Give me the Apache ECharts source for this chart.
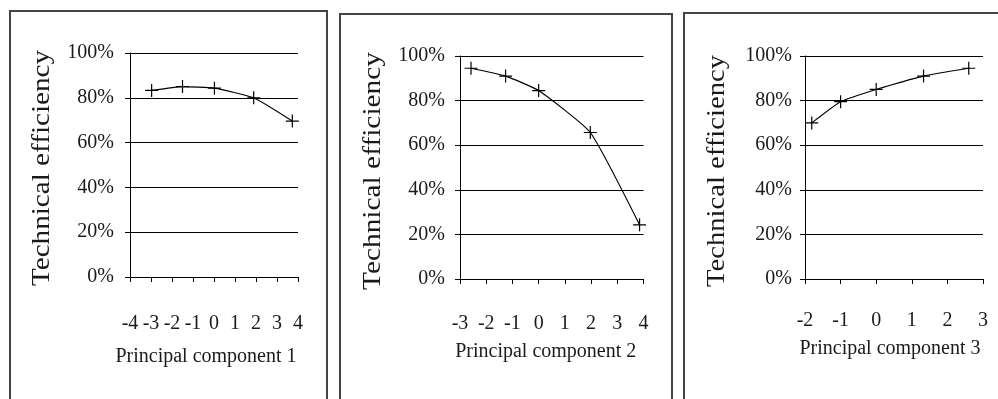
<!DOCTYPE html>
<html>
<head>
<meta charset="utf-8">
<script src="https://cdn.jsdelivr.net/npm/echarts@6/dist/echarts.min.js"></script>
<style>
html,body{margin:0;padding:0;background:#fff;}
#c{width:998px;height:399px;}
</style>
</head>
<body>
<div id="c"></div>
<script>
// ---- data ----
var pc1X = [-2.97, -1.5, 0.02, 1.89, 3.73];
var pc1Y = [83.3, 85.0, 84.3, 80.0, 69.6];
var pc2X = [-2.58, -1.26, 0.0, 1.97, 3.85];
var pc2Y = [94.5, 91.0, 84.5, 65.7, 24.3];
var pc3X = [-1.81, -1.0, 0.0, 1.33, 2.6];
var pc3Y = [70.0, 79.5, 85.0, 91.0, 94.5];
var xNames = ['Principal component 1', 'Principal component 2', 'Principal component 3'];
var xRanges = [[-4, 4], [-3, 4], [-2, 3]];
var yName = 'Technical efficiency';
var yTicks = [0, 20, 40, 60, 80, 100];

var FONT = '"Liberation Serif", "Times New Roman", serif';

function pairs(xs, ys) { return xs.map(function (x, i) { return [x, ys[i]]; }); }
var seriesData = [pairs(pc1X, pc1Y), pairs(pc2X, pc2Y), pairs(pc3X, pc3Y)];

var grids = [
  {left: 130, top: 53, width: 168, height: 224},
  {left: 460, top: 56, width: 183.5, height: 223},
  {left: 805, top: 56, width: 178, height: 223}
];
var labelMargins = [37, 35, 32];
var nameGaps = [70, 63, 60];
var namePad = [[0, 16, 0, 0], [0, 12, 0, 0], [0, 8, 0, 0]];
var yLabelMargins = [16, 15, 13];

var xAxes = [], yAxes = [], series = [];
for (var i = 0; i < 3; i++) {
  xAxes.push({
    type: 'value', gridIndex: i, min: xRanges[i][0], max: xRanges[i][1], interval: 1,
    axisLine: {onZero: false, lineStyle: {color: '#000', width: 1}},
    axisTick: {show: true, inside: false, length: 5, lineStyle: {color: '#000'}},
    splitLine: {show: false},
    axisLabel: {color: '#1a1a1a', fontFamily: FONT, fontSize: 20, margin: labelMargins[i]},
    name: xNames[i], nameLocation: 'middle', nameGap: nameGaps[i],
    nameTextStyle: {color: '#1a1a1a', fontFamily: FONT, fontSize: 20, padding: namePad[i]}
  });
  yAxes.push({
    type: 'value', gridIndex: i, min: yTicks[0], max: yTicks[yTicks.length - 1], interval: 20,
    axisLine: {show: true, onZero: false, lineStyle: {color: '#000', width: 1}},
    axisTick: {show: true, length: 5, lineStyle: {color: '#000'}},
    splitLine: {show: true, lineStyle: {color: '#000', width: 1}},
    axisLabel: {color: '#1a1a1a', fontFamily: FONT, fontSize: 20, margin: yLabelMargins[i], formatter: '{value}%'}
  });
  series.push({
    type: 'line', xAxisIndex: i, yAxisIndex: i, data: seriesData[i],
    smooth: 0.15,
    lineStyle: {color: '#000', width: 1.2},
    symbol: 'path://M5,0L5,10M0,5L10,5', symbolSize: [13, 13],
    itemStyle: {color: 'none', borderColor: '#000', borderWidth: 1.2},
    showSymbol: true, animation: false
  });
}

// measure text for the y-axis titles
var cv = document.createElement('canvas').getContext('2d');
var yFont = '25px ' + FONT;
cv.font = yFont;
var yW = cv.measureText(yName).width;
var yTitles = [
  {x: 42, y: 168, len: 236},
  {x: 373, y: 171, len: 238},
  {x: 717, y: 171, len: 232}
];

var graphic = [
  {type: 'rect', shape: {x: 10, y: 11, width: 317, height: 420}, style: {fill: 'none', stroke: '#444', lineWidth: 2}},
  {type: 'rect', shape: {x: 340, y: 14, width: 332, height: 420}, style: {fill: 'none', stroke: '#444', lineWidth: 2}},
  {type: 'rect', shape: {x: 684, y: 13, width: 340, height: 420}, style: {fill: 'none', stroke: '#444', lineWidth: 2}}
];
yTitles.forEach(function (t) {
  graphic.push({
    type: 'text', x: t.x, y: t.y, rotation: Math.PI / 2, scaleX: t.len / yW, scaleY: 1,
    style: {text: yName, font: yFont, fill: '#1a1a1a', align: 'center', verticalAlign: 'middle'}
  });
});

var chart = echarts.init(document.getElementById('c'), null, {renderer: 'canvas'});
chart.setOption({
  animation: false,
  backgroundColor: '#fff',
  grid: grids,
  xAxis: xAxes,
  yAxis: yAxes,
  series: series,
  graphic: graphic
});
</script>
</body>
</html>
